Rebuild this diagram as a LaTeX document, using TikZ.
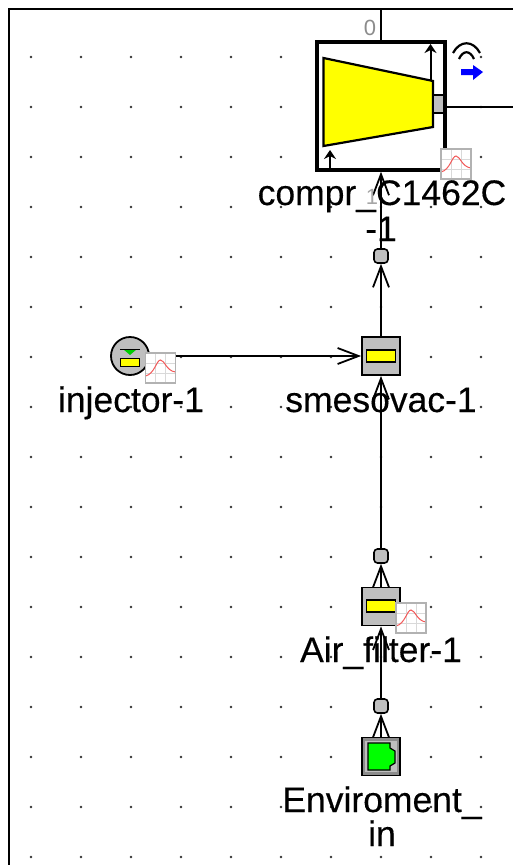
\documentclass[tikz,border=0pt]{standalone}
\usepackage{fontspec}
\setmainfont{Liberation Sans}
\newfontfamily\unitfont{Liberation Sans}[FakeBold=0.25]
\usetikzlibrary{arrows.meta, positioning}
\definecolor{unitgray}{gray}{0.75}
\definecolor{chartgray}{gray}{0.7}
\definecolor{chartred}{rgb}{0.95,0.35,0.35}
\definecolor{unityellow}{rgb}{1,1,0}
\definecolor{unitgreen}{rgb}{0,1,0}
\definecolor{unitblue}{rgb}{0,0,1}

\begin{document}
\begin{tikzpicture}[
    x=1pt, y=-1pt,
    unit/.style={rectangle, draw, line width=1.8pt, fill=unitgray, minimum width=38pt, minimum height=38pt, inner sep=0pt},
    bar/.style={rectangle, draw, line width=1.2pt, fill=unityellow, minimum width=29pt, minimum height=12pt, inner sep=0pt},
    port/.style={rectangle, rounded corners=3.5pt, draw, line width=1.6pt, fill=unitgray, minimum size=14pt, inner sep=0pt},
    unitname/.style={font=\unitfont\fontsize{35.5}{35.5}\selectfont, text=black, inner sep=0pt, anchor=base},
    chart/.style={rectangle, draw=chartgray, line width=1.4pt, fill=white, minimum size=30pt, inner sep=0pt,
        path picture={
            \draw[chartgray!50, line width=0.5pt]
                ([xshift=-5pt]path picture bounding box.north) -- ([xshift=-5pt]path picture bounding box.south)
                ([xshift=5pt]path picture bounding box.north) -- ([xshift=5pt]path picture bounding box.south)
                ([yshift=-5pt]path picture bounding box.west) -- ([yshift=-5pt]path picture bounding box.east)
                ([yshift=5pt]path picture bounding box.west) -- ([yshift=5pt]path picture bounding box.east);
            \draw[chartred, line width=1pt]
                ([shift={(-15pt,-8pt)}]path picture bounding box.center)
                .. controls ([shift={(-6pt,-6pt)}]path picture bounding box.center) and ([shift={(-4pt,8pt)}]path picture bounding box.center)
                .. ([shift={(0pt,8pt)}]path picture bounding box.center)
                .. controls ([shift={(4pt,8pt)}]path picture bounding box.center) and ([shift={(6pt,-3pt)}]path picture bounding box.center)
                .. ([shift={(15pt,-4pt)}]path picture bounding box.center);
        }},
    flow/.style={-{Straight Barb[length=21pt, width=16pt, line width=1.8pt]}, line width=1.8pt},
    wire/.style={line width=1.8pt}
]
    \useasboundingbox (0,0) rectangle (513,865);
    % Sheet
    \foreach \gx in {31,81,...,481}
        \foreach \gy in {57,107,...,857}
            \fill[black!80] (\gx,\gy) circle (1.3pt);
    \draw[line width=2pt] (513,9) -- (9,9) -- (9,865);

    % Units
    \node[rectangle, draw, line width=3.4pt, fill=white, minimum width=128pt, minimum height=128pt, inner sep=0pt] (compr) at (381,106) {};
    \node[unit] (smesovac) at (381,356) {};
    \node[bar] (smesovacbar) at (381,356) {};
    \node[unit] (filter) at (381,606.5) {};
    \node[bar] (filterbar) at (381,606) {};
    \node[unit, fill=black!45] (envbox) at (381,756.5) {};
    \node[circle, draw, line width=1.8pt, fill=unitgray, minimum size=38pt, inner sep=0pt] (injector) at (130,356) {};

    % Compressor inside
    \draw[line width=2.2pt, fill=unityellow] (323.5,58) -- (433,81) -- (433,127) -- (323.5,146) -- cycle;
    \node[rectangle, draw, line width=1.2pt, fill=unitgray, minimum width=11pt, minimum height=18pt, inner sep=0pt] (shaft) at (438.5,104) {};
    \draw[-{Stealth[length=9pt, width=12pt]}, line width=2pt] (430.5,81) -- (430.5,44);
    \draw[-{Stealth[length=9pt, width=12pt]}, line width=2pt] (330,170) -- (330,150);
    % Signal and blue arrow
    \draw[line width=2.2pt] (453,53) .. controls (460,40) and (473,40) .. (480,53);
    \draw[line width=2.2pt] (459,59) .. controls (463,50) and (470,50) .. (474,59);
    \fill[unitblue] (461,69) -- (473,69) -- (473,65) -- (483,72) -- (473,80) -- (473,75) -- (461,75) -- cycle;

    % Injector inside
    \fill[unitgreen!80!black] (123,349) -- (137,349) -- (130,355) -- cycle;
    \draw[line width=1pt] (120,349) -- (140,349);
    \node[rectangle, fill=unityellow, draw, line width=1pt, minimum width=19pt, minimum height=8pt, inner sep=0pt] (injectorbar) at (130,362) {};

    % Environment inside
    \fill[white!75!black] (365,741) rectangle (397,772);
    \draw[line width=1.2pt, fill=unitgreen] (368,743) -- (390,743) -- (390,748) -- (395,751) -- (395,763) -- (390,766) -- (390,770) -- (368,770) -- cycle;

    % Ports
    \node[port] (porta) at (381,256) {};
    \node[port] (portb) at (381,556) {};
    \node[port] (portc) at (381,706) {};
    \coordinate (top) at (381,9);
    \coordinate (right) at (513,107);

    % Flow
    \draw[wire] (top) -- (compr.north);
    \draw[wire] (compr.east |- right) -- (right);
    \draw[flow] (porta) -- (compr);
    \draw[flow] (smesovac) -- (porta);
    \draw[flow] (portb) -- (smesovac);
    \draw[flow] (filter) -- (portb);
    \draw[flow] (portc) -- (filter);
    \draw[flow] (envbox) -- (portc);
    \draw[flow] (injector) -- (smesovac);

    % Charts
    \node[chart] (chartcompr) at (456,164) {};
    \node[chart] (chartinjector) at (160.5,368) {};
    \node[chart] (chartfilter) at (411,618) {};

    % Labels
    \node[font=\fontsize{22}{22}\selectfont, text=black!45, inner sep=0pt] (zero) at (370,28) {0};
    \node[font=\fontsize{22}{22}\selectfont, text=black!35, inner sep=0pt] (one) at (372,197) {1};
    \node[unitname] (comprname) at (382,205) {compr\_C1462C};
    \node[unitname] (comprnum) at (381,241) {-1};
    \node[unitname] (injectorname) at (131,412) {injector-1};
    \node[unitname] (smesovacname) at (381,412) {smesovac-1};
    \node[unitname] (filtername) at (381,662) {Air\_filter-1};
    \node[unitname] (envname) at (382,812) {Enviroment\_};
    \node[unitname] (envnum) at (382,846) {in};
\end{tikzpicture}
\end{document}
